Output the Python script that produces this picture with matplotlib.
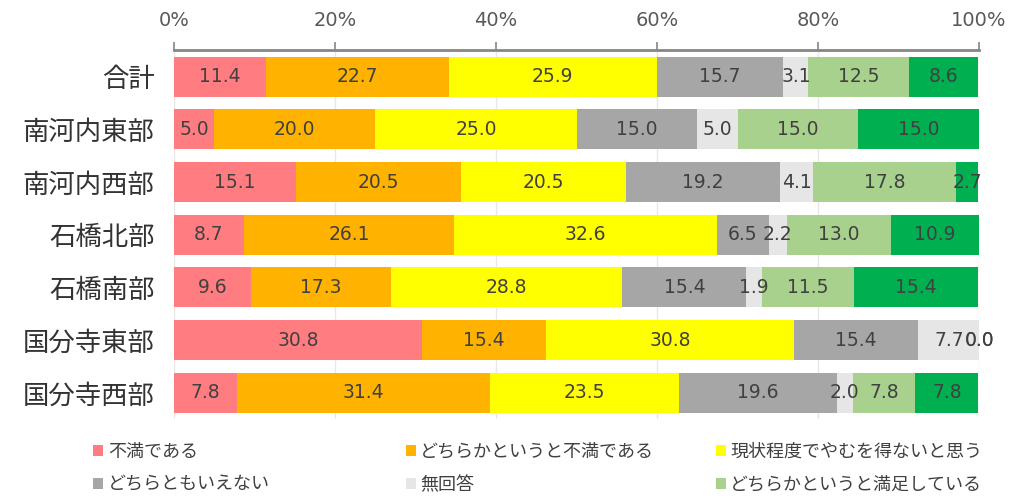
import numpy as np
import matplotlib.pyplot as plt
from matplotlib.patches import Patch

plt.rcParams['font.family'] = ['Noto Sans CJK JP', 'DejaVu Sans']

areas = ['合計', '南河内東部', '南河内西部', '石橋北部', '石橋南部', '国分寺東部', '国分寺西部']
series = ['不満である', 'どちらかというと不満である', '現状程度でやむを得ないと思う',
          'どちらともいえない', '無回答', 'どちらかというと満足している', '満足している']
colors = ['#FF7C80', '#FFB300', '#FFFF00', '#A6A6A6', '#E6E6E6', '#A9D18E', '#00B050']

fuman = [11.4, 5.0, 15.1, 8.7, 9.6, 30.8, 7.8]
yaya_fuman = [22.7, 20.0, 20.5, 26.1, 17.3, 15.4, 31.4]
genjo = [25.9, 25.0, 20.5, 32.6, 28.8, 30.8, 23.5]
dochiramo = [15.7, 15.0, 19.2, 6.5, 15.4, 15.4, 19.6]
mukaito = [3.1, 5.0, 4.1, 2.2, 1.9, 7.7, 2.0]
yaya_manzoku = [12.5, 15.0, 17.8, 13.0, 11.5, 0.0, 7.8]
manzoku = [8.6, 15.0, 2.7, 10.9, 15.4, 0.0, 7.8]

data = np.array([fuman, yaya_fuman, genjo, dochiramo, mukaito, yaya_manzoku, manzoku])

fig = plt.figure(figsize=(10.14, 4.99), dpi=100)
ax = fig.add_axes([0.1716, 0.160, 0.7939, 0.740])

y = np.arange(len(areas))
left = np.zeros(len(areas))
for i in range(len(series)):
    ax.barh(y, data[i], left=left, height=0.76, color=colors[i], zorder=2)
    for j in range(len(areas)):
        ax.text(left[j] + data[i][j] / 2, y[j], f'{data[i][j]:.1f}', ha='center', va='center',
                fontsize=13.5, color='#404040', family='DejaVu Sans', zorder=3)
    left += data[i]

ax.set_xlim(0, 100)
ax.set_ylim(6.5, -0.51)
ax.set_yticks(y)
ax.set_yticklabels(areas, fontsize=19, color='#333333')
ax.set_xticks(range(0, 101, 20))
ax.set_xticklabels([f'{v}%' for v in range(0, 101, 20)], fontsize=14, color='#595959', family='DejaVu Sans')
ax.xaxis.tick_top()
ax.tick_params(axis='x', length=6, color='#868686', width=1.2, pad=8)
ax.tick_params(axis='y', length=0, pad=14)
ax.grid(axis='x', color='#E8E8E8', linewidth=1, zorder=0)
for s in ['right', 'bottom', 'left']:
    ax.spines[s].set_visible(False)
ax.spines['top'].set_color('#868686')
ax.spines['top'].set_linewidth(2)

# legend: 3 columns x 2 rows, first six categories
col_x = [0.092, 0.400, 0.706]
for c in range(3):
    idx = [c, c + 3]
    handles = [Patch(facecolor=colors[k], edgecolor='none') for k in idx]
    leg = fig.legend(handles, [series[k] for k in idx], loc='upper left',
                     bbox_to_anchor=(col_x[c], 0.113), frameon=False, fontsize=13,
                     handlelength=0.55, handleheight=0.55, handletextpad=0.25,
                     labelspacing=0.85, borderaxespad=0, borderpad=0)
    for t in leg.get_texts():
        t.set_color('#404040')

fig.savefig('out.png', dpi=100)
